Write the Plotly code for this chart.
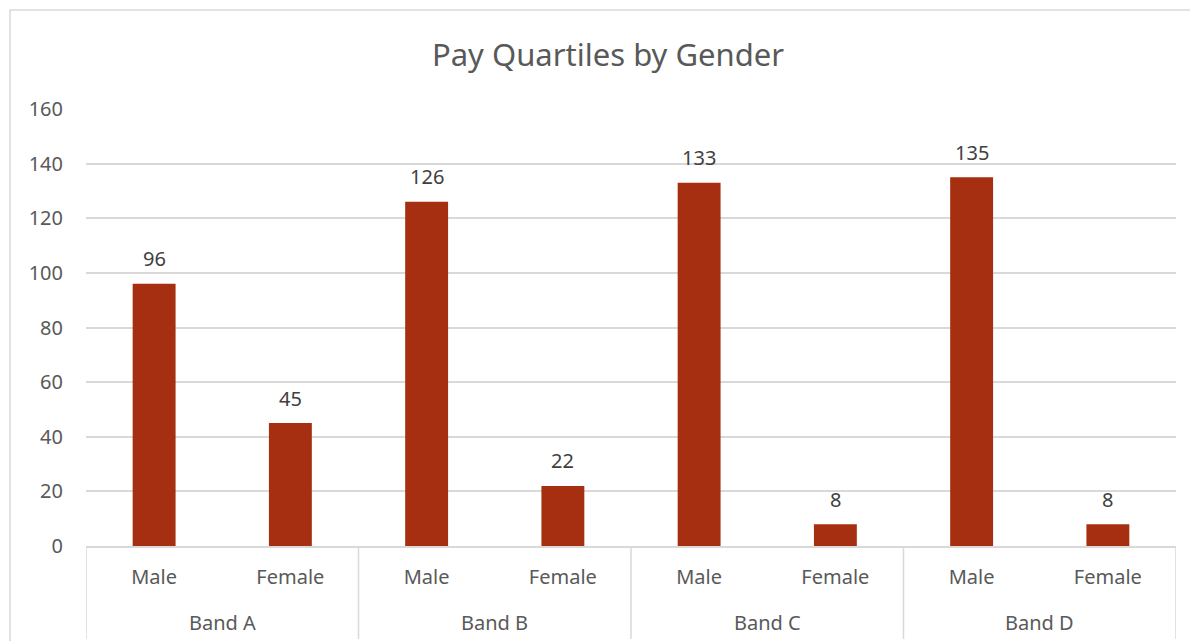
import plotly.graph_objects as go

bands = ["Band A", "Band B", "Band C", "Band D"]
genders = ["Male", "Female", "Male", "Female", "Male", "Female", "Male", "Female"]
values = [96, 45, 126, 22, 133, 8, 135, 8]
yticks = [0, 20, 40, 60, 80, 100, 120, 140, 160]

FONT = "Noto Sans"
GREY = "#595959"
LINE = "#D9D9D9"

# page has an 8px body margin; figure is sized to fit the window
W, H = 1190, 633
L, R, T, B = 78, 22, 101, 95
PW, PH = W - L - R, H - T - B

xpos = list(range(len(values)))

fig = go.Figure(go.Bar(
    x=xpos,
    y=values,
    marker=dict(color="#A52F10", line=dict(width=0)),
    width=0.315,
    hoverinfo="y",
))

# data labels
for xp, v in zip(xpos, values):
    fig.add_annotation(x=xp, y=v, xref="x", yref="y", text=str(v), showarrow=False,
                       yanchor="middle", yshift=25,
                       font=dict(family=FONT, size=20, color="#404040"))

# band (outer category) labels and dividers
for i, b in enumerate(bands):
    fig.add_annotation(x=2 * i + 0.5, y=-76 / PH, xref="x", yref="paper", text=b,
                       showarrow=False, yanchor="middle",
                       font=dict(family=FONT, size=20, color=GREY))
for i in range(len(bands) + 1):
    fig.add_shape(type="line", xref="x", yref="paper", x0=2 * i - 0.5, x1=2 * i - 0.5,
                  y0=0, y1=-93 / PH, line=dict(color=LINE, width=1.5))

fig.update_layout(
    width=W, height=H,
    margin=dict(l=L, r=R, t=T, b=B),
    paper_bgcolor="white", plot_bgcolor="white",
    title=dict(text="Pay Quartiles by Gender", x=600 / W, xanchor="center",
               y=1 - 47 / H, yanchor="middle",
               font=dict(family=FONT, size=31, color=GREY)),
    showlegend=False,
    font=dict(family=FONT, size=20, color=GREY),
)
fig.update_yaxes(range=[0, 160], tickvals=yticks, showgrid=True, gridcolor=LINE,
                 gridwidth=1.5, zeroline=False, showline=False, ticks="",
                 tickfont=dict(family=FONT, size=20, color=GREY), ticklabelstandoff=22)
fig.update_xaxes(range=[-0.5, 7.5], tickvals=xpos, ticktext=genders, showgrid=False,
                 zeroline=False, showline=True, linecolor=LINE, linewidth=1.5,
                 ticks="", ticklabelstandoff=12,
                 tickfont=dict(family=FONT, size=20, color=GREY))

# chart-area border
fig.add_shape(type="rect", xref="paper", yref="paper",
              x0=(2 - L) / PW, x1=1.05, y0=-0.3, y1=(H - B - 2) / PH,
              line=dict(color=LINE, width=1.5), fillcolor="rgba(0,0,0,0)", layer="below")

fig.write_html("out.html")
